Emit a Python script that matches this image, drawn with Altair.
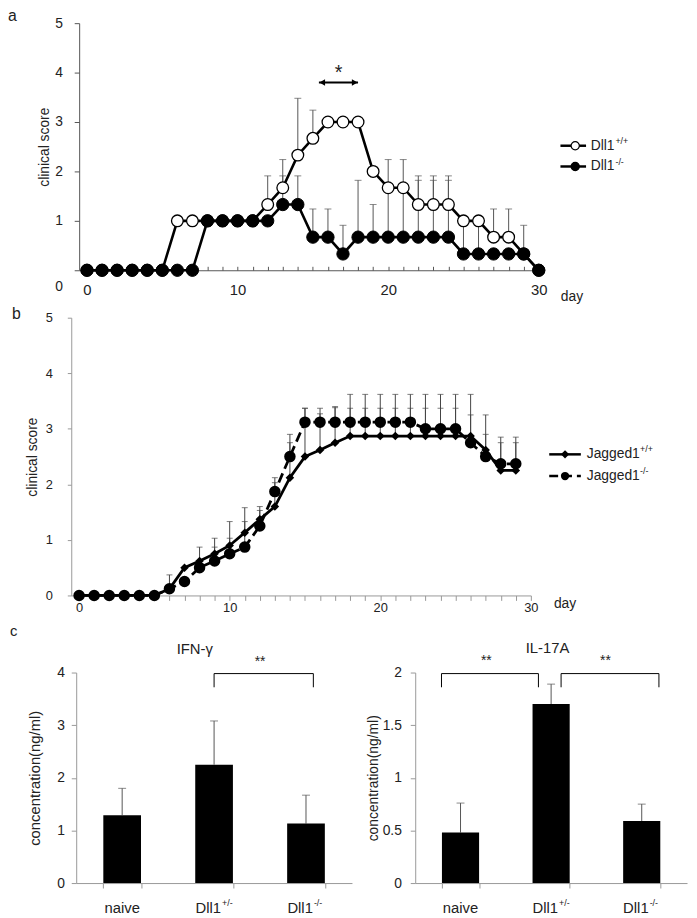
import altair as alt
import pandas as pd

FONT = "Liberation Sans"
W, H = 689, 910
TXT = "#222"

# ---------------- data: panel a (Dll1) ----------------
days_a = list(range(31))
dll1_wt = [0, 0, 0, 0, 0, 0, 1, 1, 1, 1, 1, 1, 1.33, 1.67, 2.33, 2.67, 3, 3, 3, 2,
           1.67, 1.67, 1.33, 1.33, 1.33, 1, 1, 0.67, 0.67, 0.33, 0]
dll1_ko = [0, 0, 0, 0, 0, 0, 0, 0, 1, 1, 1, 1, 1, 1.33, 1.33, 0.67, 0.67, 0.33, 0.67, 0.67,
           0.67, 0.67, 0.67, 0.67, 0.67, 0.33, 0.33, 0.33, 0.33, 0.33, 0]
dll1_wt_err_days = [12, 13, 14, 15, 20, 21, 22, 23, 24, 27, 28]
dll1_wt_err_top = [1.91, 2.24, 3.48, 3.24, 2.24, 2.24, 1.91, 1.91, 1.91, 1.24, 1.24]
dll1_ko_err_days = [13, 14, 15, 16, 17, 18, 19, 20, 21, 22, 23, 24, 25, 26, 29]
dll1_ko_err_top = [1.91, 1.91, 1.24, 1.24, 0.91, 1.82, 1.33, 1.7, 1.7, 1.82, 1.82, 1.82, 1.0, 1.0, 0.91]

# ---------------- data: panel b (Jagged1) ----------------
days_b = list(range(30))
jag_wt = [0, 0, 0, 0, 0, 0, 0.12, 0.5, 0.62, 0.75, 0.9, 1.13, 1.37, 1.6, 2.12, 2.5, 2.62, 2.75,
          2.87, 2.87, 2.87, 2.87, 2.87, 2.87, 2.87, 2.87, 2.87, 2.62, 2.25, 2.25]
jag_ko = [0, 0, 0, 0, 0, 0, 0.12, 0.25, 0.5, 0.62, 0.75, 0.87, 1.25, 1.87, 2.5, 3.12, 3.12, 3.12,
          3.12, 3.12, 3.12, 3.12, 3.12, 3.0, 3.0, 3.0, 2.75, 2.5, 2.37, 2.37]
jag_wt_err_days = [6, 8, 9, 10, 11, 12, 13, 14, 15, 16, 17, 18, 19, 20, 21, 22, 23, 24, 25, 26, 27, 28, 29]
jag_wt_err_top = [0.37, 0.87, 1.03, 1.33, 1.58, 1.6, 2.12, 2.9, 3.37, 3.27, 3.38,
                  3.37, 3.37, 3.37, 3.37, 3.37, 3.37, 3.37, 3.37, 3.25, 2.9, 2.75, 2.75]
jag_ko_err_days = [9, 10, 11, 12, 13, 14, 15, 16, 17, 18, 19, 20, 21, 22, 23, 24, 25, 26, 27, 28, 29]
jag_ko_err_top = [0.87, 1.03, 1.33, 1.53, 2.03, 2.75, 3.37, 3.37, 3.4,
                  3.62, 3.62, 3.62, 3.62, 3.62, 3.62, 3.62, 3.62, 3.62, 3.25, 2.85, 2.85]

# ---------------- data: panel c (cytokines) ----------------
groups = ["naive", "Dll1+/-", "Dll1-/-"]
group_main = ["naive", "Dll1", "Dll1"]
group_sup = ["", "+/-", "-/-"]
ifng_mean = [1.29, 2.25, 1.13]
ifng_top = [1.80, 3.08, 1.67]
il17_mean = [0.48, 1.70, 0.59]
il17_top = [0.76, 1.89, 0.75]

LAYERS = []


def qx(field, scale, axis=None):
    return alt.X(f"{field}:Q", scale=scale, axis=axis)


def qy(field, scale, axis=None):
    return alt.Y(f"{field}:Q", scale=scale, axis=axis)


def text_layer(df, scx, scy, size, xf="x", yf="y", tf="t", **kw):
    return alt.Chart(df).mark_text(font=FONT, fontSize=size, color=TXT, **kw).encode(
        x=qx(xf, scx), y=qy(yf, scy), text=f"{tf}:N")


def lbl_axis(**kw):
    base = dict(labelFont=FONT, labelColor=TXT, titleFont=FONT, titleColor=TXT,
                titleFontWeight="normal", grid=False)
    base.update(kw)
    return alt.Axis(**base)


# =============== panel a ===============
xa = alt.Scale(domain=[-0.52, 30], range=[72, 537], nice=False, zero=False)
ya = alt.Scale(domain=[0, 5], range=[260, 10], nice=False, zero=False)

ax_a_left = lbl_axis(orient="left", offset=-72, values=[0, 1, 2, 3, 4, 5], tickSize=5,
                     labelPadding=12, labelFontSize=14, domainColor="#555", tickColor="#555",
                     labelOffset={"condition": {"test": "datum.value === 0", "value": 16}, "value": 0},
                     title="clinical score", titleFontSize=14, titleX=-35, titleBaseline="middle")
ax_a_bottom = lbl_axis(orient="bottom", offset=-(H - 260), values=[0, 10, 20, 30], ticks=False,
                       labelPadding=13, labelFontSize=15, labelFlush=False, domainColor="#555",
                       title=None)
ax_a_top = alt.Axis(orient="top", offset=-260, values=list(range(31)), tickSize=4, labels=False,
                    domain=False, tickColor="#555", title=None, grid=False)

da_wt = pd.DataFrame({"day": days_a, "score": dll1_wt})
da_ko = pd.DataFrame({"day": days_a, "score": dll1_ko})
ea = pd.DataFrame({
    "day": dll1_wt_err_days + dll1_ko_err_days,
    "mean": [dll1_wt[d] for d in dll1_wt_err_days] + [dll1_ko[d] for d in dll1_ko_err_days],
    "top": dll1_wt_err_top + dll1_ko_err_top,
})

# axis carriers (invisible marks)
LAYERS.append(alt.Chart(ea).mark_rule(opacity=0).encode(
    x=qx("day", xa, ax_a_bottom), y=qy("mean", ya, ax_a_left)))
LAYERS.append(alt.Chart(ea).mark_rule(opacity=0).encode(
    x=qx("day", xa, ax_a_top), y=qy("mean", ya)))

LAYERS.append(alt.Chart(ea).mark_rule(color="#555", strokeWidth=1).encode(
    x=qx("day", xa), y=qy("mean", ya), y2="top:Q"))
LAYERS.append(alt.Chart(ea).mark_tick(orient="horizontal", size=7, thickness=1, color="#555").encode(
    x=qx("day", xa), y=qy("top", ya)))
LAYERS.append(alt.Chart(da_wt).mark_line(color="black", strokeWidth=2.6).encode(
    x=qx("day", xa), y=qy("score", ya)))
LAYERS.append(alt.Chart(da_wt).mark_point(shape="circle", filled=True, fill="white", stroke="black",
                                          strokeWidth=1.3, size=140, opacity=1).encode(
    x=qx("day", xa), y=qy("score", ya)))
LAYERS.append(alt.Chart(da_ko).mark_line(color="black", strokeWidth=2.6).encode(
    x=qx("day", xa), y=qy("score", ya)))
LAYERS.append(alt.Chart(da_ko).mark_point(shape="circle", filled=True, fill="black", stroke="black",
                                          strokeWidth=1, size=155, opacity=1).encode(
    x=qx("day", xa), y=qy("score", ya)))

arrow = pd.DataFrame({"x": [15.4], "x2": [18.0], "y": [3.8]})
LAYERS.append(alt.Chart(arrow).mark_rule(color="black", strokeWidth=2).encode(
    x=qx("x", xa), x2="x2:Q", y=qy("y", ya)))
heads = pd.DataFrame({"x": [15.62, 17.78], "y": [3.8, 3.8], "shape": ["triangle-left", "triangle-right"]})
LAYERS.append(alt.Chart(heads).mark_point(filled=True, color="black", size=45, opacity=1).encode(
    x=qx("x", xa), y=qy("y", ya), shape=alt.Shape("shape:N", scale=None)))
LAYERS.append(text_layer(pd.DataFrame({"x": [16.7], "y": [3.88], "t": ["*"]}), xa, ya, 20,
                         align="center", baseline="alphabetic"))

leg_a = pd.DataFrame({"x1": [31.44, 31.44], "x2": [33.14, 33.14], "xm": [32.42, 32.42],
                      "y": [2.52, 2.1], "xt": [33.45, 33.45], "t": ["Dll1", "Dll1"],
                      "s": ["+/+", "-/-"], "fill": ["white", "black"]})
LAYERS.append(alt.Chart(leg_a).mark_rule(color="black", strokeWidth=2.5).encode(
    x=qx("x1", xa), x2="x2:Q", y=qy("y", ya)))
LAYERS.append(alt.Chart(leg_a).mark_point(shape="circle", filled=True, stroke="black", strokeWidth=1.2,
                                          size=70, opacity=1).encode(
    x=qx("xm", xa), y=qy("y", ya), fill=alt.Fill("fill:N", scale=None)))
LAYERS.append(text_layer(leg_a, xa, ya, 14, xf="xt", tf="t", align="left", baseline="middle"))
LAYERS.append(text_layer(leg_a, xa, ya, 9, xf="xt", tf="s", align="left", baseline="middle", dx=25, dy=-5))
LAYERS.append(text_layer(pd.DataFrame({"x": [32.2], "y": [-0.54], "t": ["day"]}), xa, ya, 14,
                         align="center", baseline="middle"))
LAYERS.append(text_layer(pd.DataFrame({"x": [-5.24], "y": [5.04], "t": ["a"]}), xa, ya, 16,
                         align="left", baseline="alphabetic"))

# =============== panel b ===============
xb = alt.Scale(domain=[-0.52, 30], range=[64, 529], nice=False, zero=False)
yb = alt.Scale(domain=[0, 5], range=[589, 308], nice=False, zero=False)

ax_b_left = lbl_axis(orient="left", offset=-64, values=[0, 1, 2, 3, 4, 5], tickSize=4,
                     labelPadding=15, labelFontSize=13, domainColor="#999", tickColor="#999",
                     title="clinical score", titleFontSize=14, titleX=-39, titleBaseline="middle")
ax_b_bottom = lbl_axis(orient="bottom", offset=-(H - 589), values=list(range(31)), tickSize=5,
                       labelExpr="datum.value % 10 === 0 ? datum.label : ''", labelPadding=1,
                       labelFlush=False, labelOverlap=False, labelFontSize=13,
                       domainColor="#999", tickColor="#999", title=None)

db_wt = pd.DataFrame({"day": days_b, "score": jag_wt})
db_ko = pd.DataFrame({"day": days_b, "score": jag_ko})
eb = pd.DataFrame({
    "day": jag_wt_err_days + jag_ko_err_days,
    "mean": [jag_wt[d] for d in jag_wt_err_days] + [jag_ko[d] for d in jag_ko_err_days],
    "top": jag_wt_err_top + jag_ko_err_top,
})

LAYERS.append(alt.Chart(eb).mark_rule(opacity=0).encode(
    x=qx("day", xb, ax_b_bottom), y=qy("mean", yb, ax_b_left)))
LAYERS.append(alt.Chart(eb).mark_rule(color="#444", strokeWidth=1).encode(
    x=qx("day", xb), y=qy("mean", yb), y2="top:Q"))
LAYERS.append(alt.Chart(eb).mark_tick(orient="horizontal", size=6, thickness=1, color="#444").encode(
    x=qx("day", xb), y=qy("top", yb)))
LAYERS.append(alt.Chart(db_wt).mark_line(color="black", strokeWidth=2.8).encode(
    x=qx("day", xb), y=qy("score", yb)))
LAYERS.append(alt.Chart(db_wt).mark_point(shape="diamond", filled=True, color="black", size=75,
                                          opacity=1).encode(x=qx("day", xb), y=qy("score", yb)))
LAYERS.append(alt.Chart(db_ko).mark_line(color="black", strokeWidth=2.8, strokeDash=[10, 5]).encode(
    x=qx("day", xb), y=qy("score", yb)))
LAYERS.append(alt.Chart(db_ko).mark_point(shape="circle", filled=True, color="black", size=135,
                                          opacity=1).encode(x=qx("day", xb), y=qy("score", yb)))

leg_b_wt = pd.DataFrame({"x1": [31.22], "x2": [33.32], "xm": [32.27], "y": [2.54], "xt": [33.71],
                         "t": ["Jagged1"], "s": ["+/+"]})
leg_b_ko = pd.DataFrame({"x1": [31.22], "x2": [33.32], "xm": [32.27], "y": [2.15], "xt": [33.71],
                         "t": ["Jagged1"], "s": ["-/-"]})
leg_b = pd.concat([leg_b_wt, leg_b_ko])
LAYERS.append(alt.Chart(leg_b_wt).mark_rule(color="black", strokeWidth=2.5).encode(
    x=qx("x1", xb), x2="x2:Q", y=qy("y", yb)))
LAYERS.append(alt.Chart(leg_b_ko).mark_rule(color="black", strokeWidth=2.5, strokeDash=[9, 5]).encode(
    x=qx("x1", xb), x2="x2:Q", y=qy("y", yb)))
LAYERS.append(alt.Chart(leg_b_wt).mark_point(shape="diamond", filled=True, color="black", size=70,
                                             opacity=1).encode(x=qx("xm", xb), y=qy("y", yb)))
LAYERS.append(alt.Chart(leg_b_ko).mark_point(shape="circle", filled=True, color="black", size=70,
                                             opacity=1).encode(x=qx("xm", xb), y=qy("y", yb)))
LAYERS.append(text_layer(leg_b, xb, yb, 14, xf="xt", tf="t", align="left", baseline="middle"))
LAYERS.append(text_layer(leg_b, xb, yb, 9, xf="xt", tf="s", align="left", baseline="middle", dx=54, dy=-5))
LAYERS.append(text_layer(pd.DataFrame({"x": [32.27], "y": [-0.16], "t": ["day"]}), xb, yb, 14,
                         align="center", baseline="middle"))
LAYERS.append(text_layer(pd.DataFrame({"x": [-4.45], "y": [4.98], "t": ["b"]}), xb, yb, 16,
                         align="left", baseline="alphabetic"))


# =============== panel c ===============
def bar_panel(means, tops, ymax, yvals, xrange, label_y, ytitle_size, lab_pad):
    xs = alt.Scale(domain=groups, range=xrange, paddingInner=0.59, paddingOuter=0.295)
    ys = alt.Scale(domain=[0, ymax], range=[880, 667], nice=False, zero=False)
    df = pd.DataFrame({"group": groups, "mean": means, "top": tops,
                       "main": group_main, "sup": group_sup, "ly": [label_y] * 3})
    ax_x = alt.Axis(orient="bottom", offset=-(H - 880), labels=False, tickBand="extent", tickSize=5,
                    domainColor="#999", tickColor="#999", title=None, grid=False)
    ax_y = lbl_axis(orient="left", offset=-xrange[0], values=yvals, format="~g", tickSize=5,
                    labelPadding=lab_pad, labelFontSize=14, domainColor="#999", tickColor="#999",
                    title="concentration(ng/ml)", titleFontSize=ytitle_size, titleX=-42,
                    titleBaseline="middle")

    def gx(axis=None):
        return alt.X("group:N", scale=xs, axis=axis)

    out = [
        alt.Chart(df).mark_rule(color="#555", strokeWidth=1).encode(
            x=gx(), y=qy("mean", ys), y2="top:Q"),
        alt.Chart(df).mark_tick(orient="horizontal", size=8, thickness=1, color="#555").encode(
            x=gx(), y=qy("top", ys)),
        alt.Chart(df).mark_bar(color="black").encode(x=gx(ax_x), y=qy("mean", ys, ax_y)),
        alt.Chart(df).transform_filter("datum.sup === ''").mark_text(
            font=FONT, fontSize=15, color=TXT, align="center", baseline="middle").encode(
            x=gx(), y=qy("ly", ys), text="main:N"),
        alt.Chart(df).transform_filter("datum.sup !== ''").mark_text(
            font=FONT, fontSize=15, color=TXT, align="right", baseline="middle", dx=7).encode(
            x=gx(), y=qy("ly", ys), text="main:N"),
        alt.Chart(df).transform_filter("datum.sup !== ''").mark_text(
            font=FONT, fontSize=9, color=TXT, align="left", baseline="middle", dx=8, dy=-5).encode(
            x=gx(), y=qy("ly", ys), text="sup:N"),
    ]
    return out


def annot_panel(xrange, ymax, hsegs, vsegs, stars, title, letter=None):
    xs = alt.Scale(domain=[0, 3], range=xrange, nice=False, zero=False)
    ys = alt.Scale(domain=[0, ymax], range=[880, 667], nice=False, zero=False)
    out = [
        alt.Chart(pd.DataFrame(hsegs)).mark_rule(color="black", strokeWidth=1).encode(
            x=qx("x", xs), x2="x2:Q", y=qy("y", ys)),
        alt.Chart(pd.DataFrame(vsegs)).mark_rule(color="black", strokeWidth=1).encode(
            x=qx("x", xs), y=qy("y", ys), y2="y2:Q"),
        text_layer(pd.DataFrame(stars), xs, ys, 14, align="center", baseline="alphabetic"),
        text_layer(pd.DataFrame(title), xs, ys, 15, align="center", baseline="middle"),
    ]
    if letter is not None:
        out.append(text_layer(pd.DataFrame(letter), xs, ys, 15, align="left", baseline="alphabetic"))
    return out


LAYERS += bar_panel(ifng_mean, ifng_top, 4, [0, 1, 2, 3, 4], [69, 348], -0.47, 15, 7)
LAYERS += annot_panel(
    [69, 348], 4,
    {"x": [1.5], "x2": [2.58], "y": [3.98]},
    {"x": [1.5, 2.58], "y": [3.72, 3.72], "y2": [3.98, 3.98]},
    {"x": [2.0], "y": [4.13], "t": ["**"]},
    {"x": [1.29], "y": [4.45], "t": ["IFN-γ"]},
    {"x": [-0.72], "y": [4.69], "t": ["c"]})

LAYERS += bar_panel(il17_mean, il17_top, 2, [0, 0.5, 1, 1.5, 2], [412, 687], -0.235, 14, 9)
LAYERS += annot_panel(
    [412, 687], 2,
    {"x": [0.29, 1.61], "x2": [1.36, 2.69], "y": [1.99, 1.99]},
    {"x": [0.29, 1.36, 1.61, 2.69], "y": [1.86] * 4, "y2": [1.99] * 4},
    {"x": [0.785, 2.1], "y": [2.07, 2.07], "t": ["**", "**"]},
    {"x": [1.46], "y": [2.23], "t": ["IL-17A"]})

chart = alt.layer(*LAYERS).resolve_scale(
    x="independent", y="independent"
).properties(
    width=W, height=H, padding=0, autosize=alt.AutoSizeParams(type="none")
).configure_view(stroke=None).configure_axis(grid=False)

chart.save("out.html", embed_options={"renderer": "svg", "actions": False})
